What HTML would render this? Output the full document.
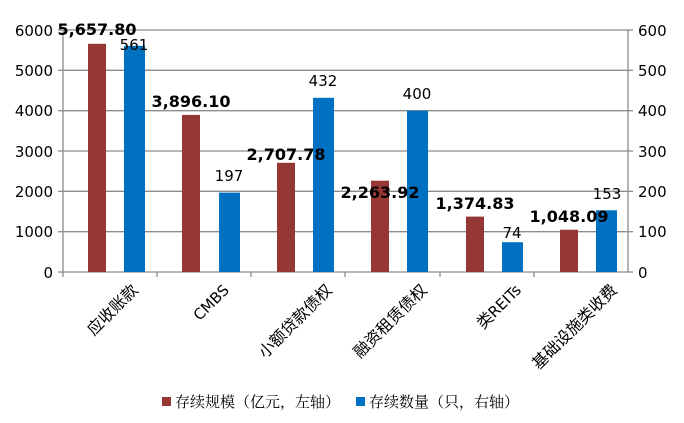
<!DOCTYPE html>
<html><head><meta charset="utf-8"><style>
html,body{margin:0;padding:0;background:#fff;}
svg{display:block;}
text{font-family:"DejaVu Sans","Liberation Sans","Noto Sans CJK SC",sans-serif;}
.cj{font-family:"Liberation Serif","Noto Serif CJK SC",serif;}
</style></head><body>
<svg width="684" height="423" viewBox="0 0 684 423">
<g stroke="#8c8c8c" stroke-width="1.3">
<line x1="63" y1="30" x2="628" y2="30"/>
<line x1="63" y1="70.3" x2="628" y2="70.3"/>
<line x1="63" y1="110.7" x2="628" y2="110.7"/>
<line x1="63" y1="151" x2="628" y2="151"/>
<line x1="63" y1="191.3" x2="628" y2="191.3"/>
<line x1="63" y1="231.7" x2="628" y2="231.7"/>
<line x1="63" y1="272" x2="628" y2="272"/>
<line x1="63" y1="30" x2="63" y2="272"/>
<line x1="628" y1="30" x2="628" y2="272"/>
<line x1="58" y1="30" x2="63" y2="30"/><line x1="58" y1="70.3" x2="63" y2="70.3"/><line x1="58" y1="110.7" x2="63" y2="110.7"/><line x1="58" y1="151" x2="63" y2="151"/><line x1="58" y1="191.3" x2="63" y2="191.3"/><line x1="58" y1="231.7" x2="63" y2="231.7"/><line x1="58" y1="272" x2="63" y2="272"/>
<line x1="628" y1="30" x2="633" y2="30"/><line x1="628" y1="70.3" x2="633" y2="70.3"/><line x1="628" y1="110.7" x2="633" y2="110.7"/><line x1="628" y1="151" x2="633" y2="151"/><line x1="628" y1="191.3" x2="633" y2="191.3"/><line x1="628" y1="231.7" x2="633" y2="231.7"/><line x1="628" y1="272" x2="633" y2="272"/>
<line x1="63" y1="272" x2="63" y2="277"/><line x1="157" y1="272" x2="157" y2="277"/><line x1="251" y1="272" x2="251" y2="277"/><line x1="345" y1="272" x2="345" y2="277"/><line x1="440" y1="272" x2="440" y2="277"/><line x1="534" y1="272" x2="534" y2="277"/>
</g>
<g font-size="15" fill="#000" text-anchor="end">
<text x="53" y="36">6000</text><text x="53" y="76">5000</text><text x="53" y="116">4000</text><text x="53" y="157">3000</text><text x="53" y="197">2000</text><text x="53" y="237">1000</text><text x="53" y="278">0</text>
</g>
<g font-size="15" fill="#000" text-anchor="start">
<text x="638" y="36">600</text><text x="638" y="76">500</text><text x="638" y="116">400</text><text x="638" y="157">300</text><text x="638" y="197">200</text><text x="638" y="237">100</text><text x="638" y="278">0</text>
</g>
<g fill="#953735">
<rect x="88" y="43.8" width="18" height="228.2"/>
<rect x="182" y="114.9" width="18" height="157.1"/>
<rect x="277" y="162.8" width="18" height="109.2"/>
<rect x="371" y="180.7" width="18" height="91.3"/>
<rect x="466" y="216.6" width="18" height="55.4"/>
<rect x="560" y="229.7" width="18" height="42.3"/>
</g>
<g fill="#0070c0">
<rect x="124" y="45.8" width="21" height="226.2"/>
<rect x="219" y="192.6" width="21" height="79.4"/>
<rect x="313" y="97.8" width="21" height="174.2"/>
<rect x="407" y="110.7" width="21" height="161.3"/>
<rect x="502" y="242.2" width="21" height="29.8"/>
<rect x="596" y="210.3" width="21" height="61.7"/>
</g>
<g font-size="16" font-weight="bold" text-anchor="middle" fill="#000">
<text x="97" y="35">5,657.80</text>
<text x="191" y="107">3,896.10</text>
<text x="286" y="160">2,707.78</text>
<text x="380" y="198">2,263.92</text>
<text x="475" y="209">1,374.83</text>
<text x="569" y="222">1,048.09</text>
</g>
<g font-size="15" text-anchor="middle" fill="#000">
<text x="134" y="50">561</text>
<text x="229" y="181">197</text>
<text x="323" y="86">432</text>
<text x="417" y="99">400</text>
<text x="512" y="238">74</text>
<text x="607" y="199">153</text>
</g>
<g font-size="16" fill="#000" text-anchor="end" class="cj">
<text transform="translate(139,291) rotate(-45)">应收账款</text>
<text transform="translate(230,291) rotate(-45)" style="font-family:'DejaVu Sans',sans-serif" font-size="15">CMBS</text>
<text transform="translate(333,291) rotate(-45)">小额贷款债权</text>
<text transform="translate(428,291) rotate(-45)">融资租赁债权</text>
<text transform="translate(522,291) rotate(-45)">类<tspan style="font-family:'DejaVu Sans',sans-serif" font-size="15">REITs</tspan></text>
<text transform="translate(618,291) rotate(-45)">基础设施类收费</text>
</g>
<rect x="162" y="397" width="9" height="9" fill="#953735"/>
<text x="175" y="407" font-size="15" class="cj">存续规模（亿元，左轴）</text>
<rect x="356" y="397" width="9" height="9" fill="#0070c0"/>
<text x="369" y="407" font-size="15" class="cj">存续数量（只，右轴）</text>
</svg>
</body></html>
